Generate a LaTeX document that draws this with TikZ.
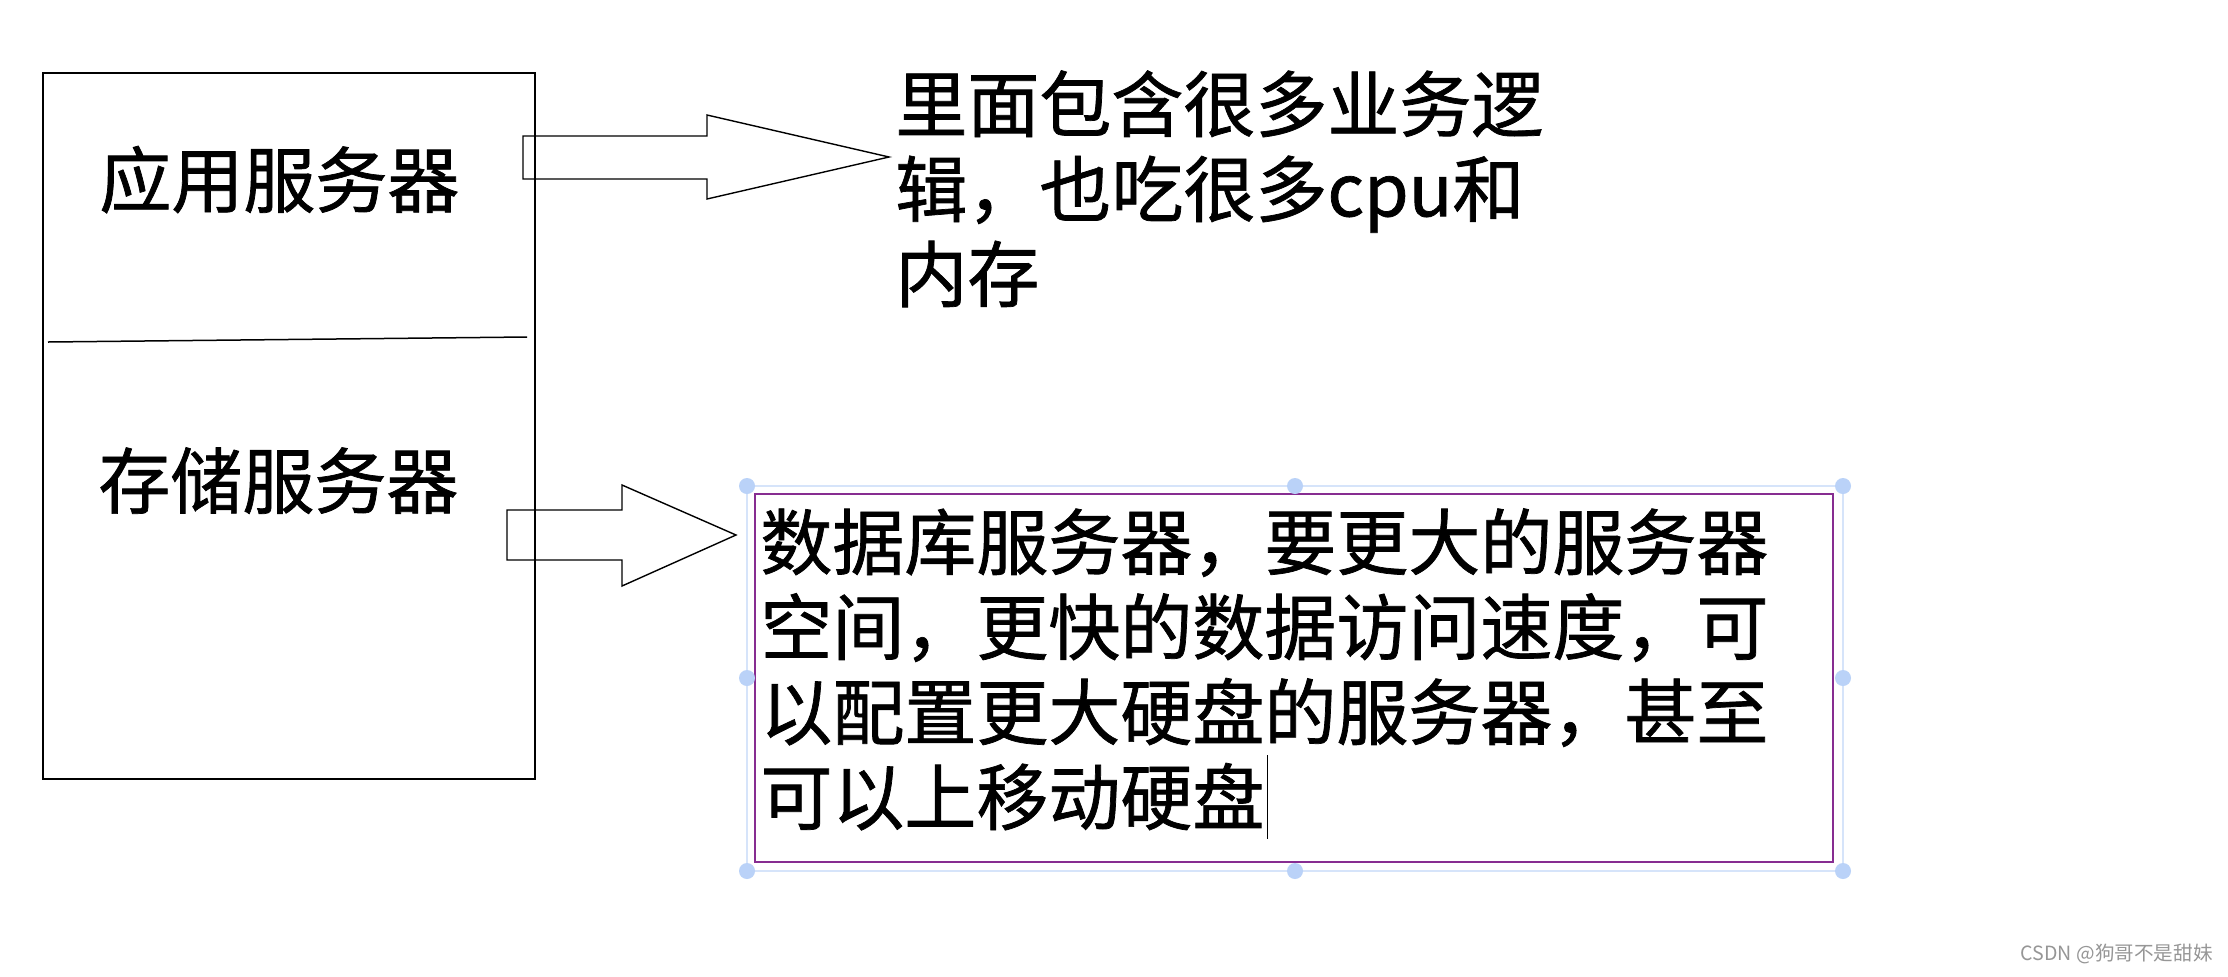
\documentclass[tikz,border=0pt]{standalone}
\usepackage{fontspec}
\setmainfont{Noto Sans CJK SC}[FakeBold=1]
\newfontfamily\wmfont{Noto Sans CJK SC}
\definecolor{selblue}{RGB}{214,228,250}
\definecolor{handleblue}{RGB}{186,210,248}
\definecolor{purplec}{RGB}{135,45,145}
\definecolor{wmgray}{RGB}{150,150,150}
\begin{document}
\begin{tikzpicture}[x=0.5pt,y=-0.5pt,
  outline/.style={draw=black, line width=0.8pt, line join=miter},
  bigtext/.style={font=\fontsize{36}{42.5}\selectfont, inner sep=0pt, align=left, anchor=north west},
  boxlabel/.style={font=\fontsize{36}{42.5}\selectfont, inner sep=0pt, anchor=base west},
  selline/.style={draw=selblue, line width=1pt},
  handle/.style={circle, fill=handleblue, inner sep=0pt, minimum size=8pt},
  cursorline/.style={draw=black, line width=0.5pt},
  watermark/.style={font=\wmfont\fontsize{9.8}{11}\selectfont, text=wmgray, inner sep=0pt, anchor=base east}]
\useasboundingbox[fill=white] (0,0) rectangle (2228,976);

% main server box
\draw[outline] (43,73) rectangle (535,779);
\draw[outline, line width=0.75pt] (48,342) -- (527,337);
\node[boxlabel] (app) at (99,207) {应用服务器};
\node[boxlabel] (store) at (98,508) {存储服务器};

% block arrows
\draw[outline, line width=0.7pt] (523,136) -- (707,136) -- (707,115) -- (889,157) -- (707,199) -- (707,179) -- (523,179) -- cycle;
\draw[outline, line width=0.7pt] (507,510) -- (622,510) -- (622,485) -- (736,535) -- (622,586) -- (622,560) -- (507,560) -- cycle;

% top description
\node[bigtext] (appdesc) at (895,70) {里面包含很多业务逻\\辑，也吃很多cpu和\\内存};

% selection frame
\draw[selline] (747,486) rectangle (1843,871);
\draw[purplec, line width=0.6pt] (755,494) rectangle (1833,862);
\foreach \n/\px/\py in {h1/747/486, h2/1295/486, h3/1843/486, h4/747/678, h5/1843/678, h6/747/871, h7/1295/871, h8/1843/871}
  \node[handle] (\n) at (\px,\py) {};

% database description
\node[bigtext] (dbdesc) at (760,508) {数据库服务器，要更大的服务器\\空间，更快的数据访问速度，可\\以配置更大硬盘的服务器，甚至\\可以上移动硬盘};
\draw[cursorline] (1267,755) -- (1267,839);

% watermark
\node[watermark] (wm) at (2213,960) {CSDN @狗哥不是甜妹};
\end{tikzpicture}
\end{document}
